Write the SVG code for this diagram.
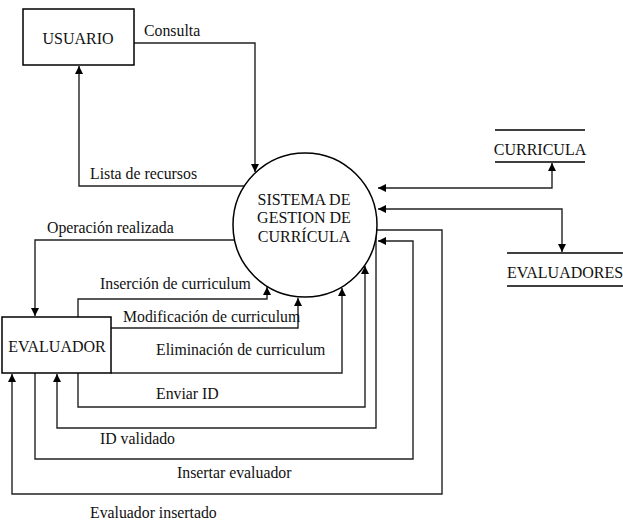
<svg xmlns="http://www.w3.org/2000/svg" width="623" height="525" viewBox="0 0 623 525">
<style>
.n{fill:#fff;stroke:#000;stroke-width:1.5}
.t{font-family:"Liberation Serif","Times New Roman",serif;font-size:16px;fill:#111}
.l{font-family:"Liberation Serif","Times New Roman",serif;font-size:15.8px;fill:#111}
.c{fill:none;stroke:#222;stroke-width:1.4}
.s{stroke:#000;stroke-width:1.4}
</style>
<defs>
<marker id="a" viewBox="0 0 10 10" refX="10" refY="5" markerWidth="8" markerHeight="8" markerUnits="userSpaceOnUse" orient="auto-start-reverse">
<path d="M0,0 L10,5 L0,10 z" fill="#000"/>
</marker>
</defs>
<rect width="623" height="525" fill="#fff"/>
<g id="connectors">
<path class="c" d="M134,43 H255 V172" marker-end="url(#a)"/>
<path class="c" d="M244,186 H79 V66" marker-end="url(#a)"/>
<path class="c" d="M235,240 H35 V316" marker-end="url(#a)"/>
<path class="c" d="M78,317 V299 H267 V287" marker-end="url(#a)"/>
<path class="c" d="M111,328 H298 V298" marker-end="url(#a)"/>
<path class="c" d="M111,373 H342 V288" marker-end="url(#a)"/>
<path class="c" d="M78,373 V407 H365 V266" marker-end="url(#a)"/>
<path class="c" d="M376,234 V428 H57 V374" marker-end="url(#a)"/>
<path class="c" d="M35,373 V459 H413 V241 H378" marker-end="url(#a)"/>
<path class="c" d="M377,230 H442 V494 H12 V374" marker-end="url(#a)"/>
<path class="c" d="M378,188 H552 V163" marker-start="url(#a)" marker-end="url(#a)"/>
<path class="c" d="M378,209 H562 V252" marker-start="url(#a)" marker-end="url(#a)"/>
<text class="l" x="144" y="36">Consulta</text>
<text class="l" x="90" y="179">Lista de recursos</text>
<text class="l" x="47" y="233">Operación realizada</text>
<text class="l" x="100" y="289">Inserción de curriculum</text>
<text class="l" x="123" y="322">Modificación de curriculum</text>
<text class="l" x="156" y="355">Eliminación de curriculum</text>
<text class="l" x="156" y="399">Enviar ID</text>
<text class="l" x="100" y="444">ID validado</text>
<text class="l" x="177" y="478">Insertar evaluador</text>
<text class="l" x="90" y="518">Evaluador insertado</text>
</g>
<g id="usuario">
<rect class="n" x="23" y="9" width="111" height="56"/>
<text class="t" x="78" y="44" text-anchor="middle">USUARIO</text>
</g>
<g id="sistema">
<circle class="n" cx="305" cy="225" r="72"/>
<text class="t" x="304" y="205" text-anchor="middle">SISTEMA DE</text>
<text class="t" x="304" y="223" text-anchor="middle">GESTION DE</text>
<text class="t" x="304" y="242" text-anchor="middle">CURRÍCULA</text>
</g>
<g id="evaluador">
<rect class="n" x="2" y="317" width="109" height="56"/>
<text class="t" x="57" y="352" text-anchor="middle">EVALUADOR</text>
</g>
<g id="curricula">
<line class="s" x1="495" y1="130" x2="585" y2="130"/>
<line class="s" x1="495" y1="162" x2="585" y2="162"/>
<text class="t" x="540" y="155" text-anchor="middle">CURRICULA</text>
</g>
<g id="evaluadores">
<line class="s" x1="507" y1="253" x2="623" y2="253"/>
<line class="s" x1="507" y1="286" x2="623" y2="286"/>
<text class="t" x="507" y="278">EVALUADORES</text>
</g>
</svg>
